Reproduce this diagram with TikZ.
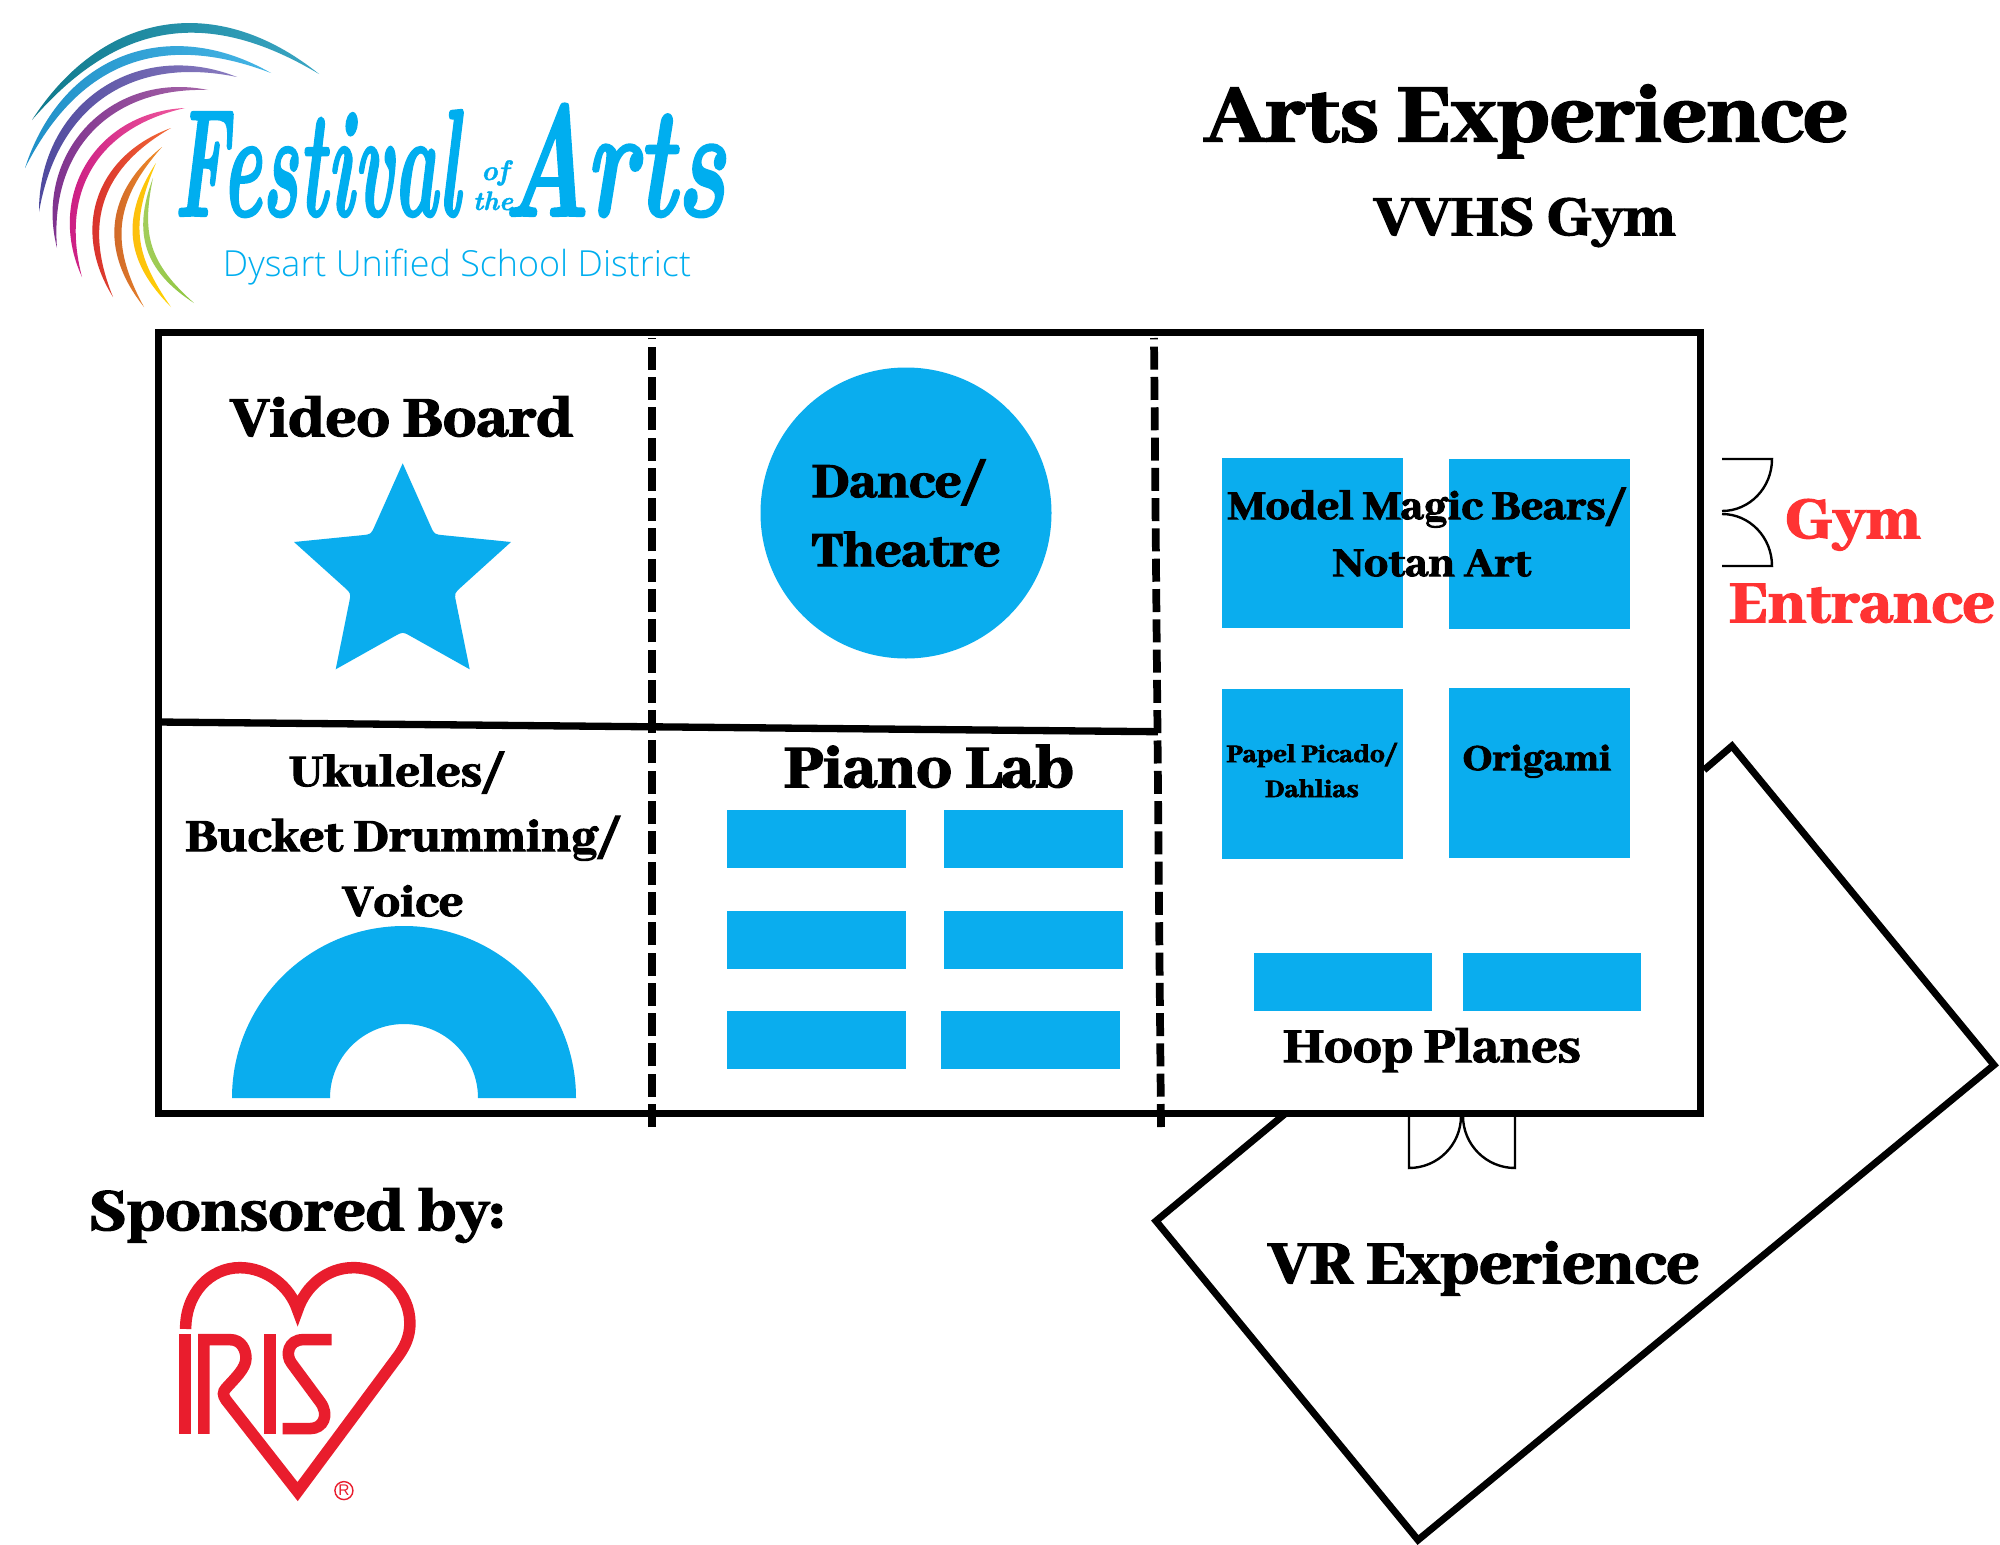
\documentclass[tikz,border=0pt]{standalone}
\usepackage{fontspec}
\usepackage{graphicx}
\usetikzlibrary{calc}
\setmainfont{Abhaya Libre ExtraBold}[FakeBold=2.5,FakeStretch=1.07]
\newfontfamily\logosans{Open Sans Light}
\newfontfamily\logoscript{Latin Modern Roman}[BoldItalicFeatures={FakeBold=1.5}]
\newfontfamily\rfont{Liberation Sans}
\definecolor{skyb}{HTML}{0AADEE}
\definecolor{gymred}{HTML}{FF3333}
\definecolor{irisred}{HTML}{E91D2D}
\definecolor{logob}{HTML}{00AEEF}
\definecolor{a1}{HTML}{0F7A8C}\definecolor{b1}{HTML}{3AA6C4}
\definecolor{a2}{HTML}{2090C8}\definecolor{b2}{HTML}{45B5E5}
\definecolor{a3}{HTML}{4F4A9E}\definecolor{b3}{HTML}{8A7CC0}
\definecolor{a4}{HTML}{7B2D8B}\definecolor{b4}{HTML}{A565A8}
\definecolor{a5}{HTML}{C4127E}\definecolor{b5}{HTML}{F05A9E}
\definecolor{a6}{HTML}{D2232A}\definecolor{b6}{HTML}{F26A36}
\definecolor{a7}{HTML}{C65F2A}\definecolor{b7}{HTML}{F28C28}
\definecolor{a8}{HTML}{FCB813}\definecolor{b8}{HTML}{FFD400}
\definecolor{a9}{HTML}{A8CF60}\definecolor{b9}{HTML}{8DC63F}
\newcommand{\sz}[1]{\fontsize{#1pt}{#1pt}\selectfont}
\newcommand{\crescent}[7]{%
  \shade[shading angle=#1,left color=#2,right color=#3]
    (#4) to[bend left=#6,looseness=1.15] (#5) to[bend right=#7,looseness=1.15] cycle;}
\newcommand{\scr}[4]{\scalebox{#1}[#2]{\logoscript\itshape\bfseries\sz{#3}#4}}
\tikzset{
  wall/.style={line width=9.96pt,line cap=butt,line join=miter},
  dashwall/.style={line width=11pt,dash pattern=on 32.72pt off 10.38pt},
  door/.style={line width=3.4pt},
  booth/.style={fill=skyb,draw=none},
  lab/.style={anchor=base,inner sep=0pt,align=center},
  iris/.style={draw=irisred,line width=16.4pt,line join=miter},
}
\begin{document}
\begin{tikzpicture}[x=0.05cm,y=-0.05cm]
\useasboundingbox (0,0) rectangle (2000,1545);
\fill[white] (0,0) rectangle (2000,1545);

% logo arcs
\crescent{0}{a1}{b1}{32,120}{319,74}{48}{40}
\crescent{0}{a2}{b2}{25,168}{271,73}{51}{42}
\crescent{0}{a3}{b3}{39,212}{237,77}{56}{46}
\crescent{0}{a4}{b4}{57,248}{208,90}{58}{48}
\crescent{0}{a5}{b5}{82,277}{185,108}{56}{46}
\crescent{0}{a6}{b6}{113,297}{171,128}{51}{41}
\crescent{90}{a7}{b7}{144,307}{162,147}{45}{35}
\crescent{90}{a8}{b8}{171,307}{156,163}{39}{29}
\crescent{90}{a9}{b9}{194,303}{153,178}{39}{30}

% logo text
\node[lab,text=logob] (fest) at (317,216) {\scr{0.71}{1.45}{150}{Festival}};
\node[lab,text=logob] (arts) at (614,216) {\scr{0.97}{1.5}{150}{Arts}};
\node[lab,text=logob] (of) at (495,180) {\scr{1}{1}{40}{of}};
\node[lab,text=logob] (the) at (493,210) {\scr{1}{1}{38}{the}};
\node[lab,text=logob] (dys) at (457,276) {\logosans\sz{51.1}Dysart Unified School District};

% titles
\node[lab] (title) at (1526,141) {\sz{128.6}Arts Experience};
\node[lab] (sub) at (1525,235) {\sz{88}VVHS Gym};

% booths
\fill[booth] (906,513) circle (145.5);
\coordinate (sA) at (402.7,463.3);
\coordinate (sB) at (511,542);
\coordinate (sC) at (469.7,669.3);
\coordinate (sD) at (335.7,669.3);
\coordinate (sE) at (294,542);
\coordinate (iA) at (434.3,534.3);
\coordinate (iB) at (454.3,593.3);
\coordinate (iC) at (402.7,631.7);
\coordinate (iD) at (351,593.3);
\coordinate (iE) at (371,534.3);
\fill[booth] (sA)
  -- ($(iA)!13pt!(sA)$) .. controls (iA) .. ($(iA)!13pt!(sB)$) -- (sB)
  -- ($(iB)!13pt!(sB)$) .. controls (iB) .. ($(iB)!13pt!(sC)$) -- (sC)
  -- ($(iC)!13pt!(sC)$) .. controls (iC) .. ($(iC)!13pt!(sD)$) -- (sD)
  -- ($(iD)!13pt!(sD)$) .. controls (iD) .. ($(iD)!13pt!(sE)$) -- (sE)
  -- ($(iE)!13pt!(sE)$) .. controls (iE) .. ($(iE)!13pt!(sA)$) -- cycle;
\fill[booth] (232,1098) arc[start angle=180,end angle=360,radius=172] -- (478,1098) arc[start angle=360,end angle=180,radius=74] -- cycle;

\foreach \x/\y/\w/\h in {1222/458/181/170,1449/459/181/170,1222/689/181/170,1449/688/181/170,
  1254/953/178/58,1463/953/178/58,
  727/810/179/58,944/810/179/58,727/911/179/58,944/911/179/58,727/1011/179/58,941/1011/179/58}
  \fill[booth] (\x,\y) rectangle ++(\w,\h);

% VR room
\draw[wall] (1704,770) -- (1732,746) -- (1994,1065) -- (1418,1540) -- (1156,1221) -- (1286,1113);

% hall
\draw[wall] (158,332) rectangle (1700,1113);
\draw[wall,line width=10.4pt] (158,722) -- (1158,731.7);
\draw[dashwall] (652,1127) -- (652,338);
\draw[dashwall] (1161,1127) -- (1157.5,733) -- (1154,338);

% doors
\draw[door] (1409,1113) -- (1409,1168) arc[start angle=90,end angle=0,radius=52] -- (1461,1113);
\draw[door] (1515,1113) -- (1515,1168) arc[start angle=90,end angle=180,radius=52] -- (1463,1113);
\draw[door] (1722,459) -- (1772,459) arc[start angle=0,end angle=90,x radius=50,y radius=52];
\draw[door] (1722,566) -- (1772,566) arc[start angle=0,end angle=-90,x radius=50,y radius=52];

% labels
\node[lab] (vb) at (402,436) {\sz{88.5}Video Board};
\node[lab] (d1) at (899,497) {\sz{76.7}Dance/};
\node[lab] (d2) at (906,566) {\sz{76.7}Theatre};
\node[lab] (mm) at (1427,519) {\sz{64}Model Magic Bears/};
\node[lab] (na) at (1432,576) {\sz{64}Notan Art};
\node[lab] (pp) at (1312,762) {\sz{39.3}Papel Picado/};
\node[lab] (da) at (1312,797) {\sz{39.3}Dahlias};
\node[lab] (or) at (1537,770) {\sz{57.6}Origami};
\node[lab] (hp) at (1432,1062) {\sz{75.7}Hoop Planes};
\node[lab] (uk) at (397,786) {\sz{70.3}Ukuleles/};
\node[lab] (bu) at (403,851) {\sz{71.8}Bucket Drumming/};
\node[lab] (vo) at (403,916) {\sz{70.3}Voice};
\node[lab] (pi) at (929,787) {\sz{94.2}Piano Lab};
\node[lab] (vr) at (1484,1283) {\sz{95}VR Experience};
\node[lab] (sp) at (296,1230) {\sz{93.4}Sponsored by:};
\node[lab,text=gymred] (gy) at (1853,538) {\sz{92.6}Gym};
\node[lab,text=gymred] (en) at (1862,622) {\sz{92.6}Entrance};

% IRIS logo
\begin{scope}[shift={(120,1230)},x=0.016667cm,y=-0.016667cm]
\draw[iris] (197,297) .. controls (197,190) and (270,113) .. (360,113)
  .. controls (440,113) and (510,170) .. (533,240)
  .. controls (556,170) and (620,113) .. (700,113)
  .. controls (795,113) and (870,190) .. (870,280)
  .. controls (870,320) and (855,350) .. (835,378)
  -- (533,785) -- (318,510)
  .. controls (308,495) and (308,487) .. (318,475)
  .. controls (345,445) and (378,415) .. (378,385)
  .. controls (378,360) and (365,329) .. (330,329)
  -- (252,329) -- (252,612);
\fill[irisred] (178,312) rectangle (213,612);
\fill[irisred] (432,312) rectangle (467,612);
\draw[iris] (635,329) -- (550,329) .. controls (505,329) and (495,375) .. (515,400)
  -- (600,515) .. controls (630,555) and (610,596) .. (570,596) -- (488,596);
\draw[irisred,line width=2pt] (672,782) circle (27);
\node[inner sep=0pt,text=irisred] (reg) at (672,782) {\rfont\sz{22}R};
\end{scope}
\end{tikzpicture}
\end{document}
